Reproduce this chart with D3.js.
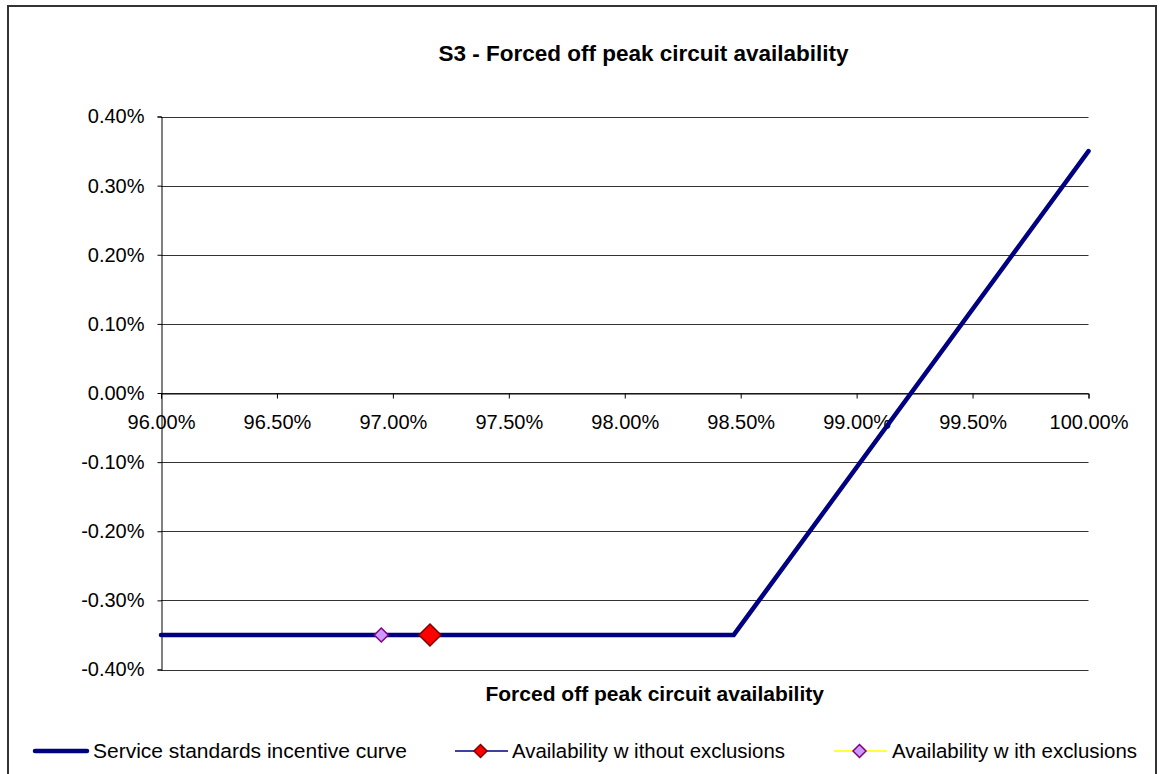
<!DOCTYPE html>
<html><head><meta charset="utf-8">
<script src="https://cdn.jsdelivr.net/npm/d3@7"></script>
<style>
html,body{margin:0;padding:0;background:#fff;}
svg{display:block;font-family:"Liberation Sans",Arial,sans-serif;}
</style></head>
<body>
<svg id="c" width="1162" height="774"></svg>
<script>
const curveX = [96.00, 98.47, 100.00];
const curveY = [-0.35, -0.35, 0.35];
const withoutX = [97.16];
const withoutY = [-0.35];
const withX = [96.95];
const withY = [-0.35];
const xTicks = [96.0, 96.5, 97.0, 97.5, 98.0, 98.5, 99.0, 99.5, 100.0];
const yTicks = [0.4, 0.3, 0.2, 0.1, 0.0, -0.1, -0.2, -0.3, -0.4];
const legendLabels = ["Service standards incentive curve", "Availability w ithout exclusions", "Availability w ith exclusions"];
const titleText = "S3 - Forced off peak circuit availability";
const xTitle = "Forced off peak circuit availability";

const svg = d3.select("#c");
const L = 161, R = 1088.5, T = 116.5, B = 669.5;
const x = d3.scaleLinear().domain([96, 100]).range([L, R]);
const y = d3.scaleLinear().domain([-0.4, 0.4]).range([B, T]);
const pct = d => (d3.format(".2f")(d) + "%").replace("\u2212", "-");

// outer border
svg.append("rect").attr("x", 8).attr("y", 6).attr("width", 1148).attr("height", 780)
  .attr("fill", "none").attr("stroke", "#333").attr("stroke-width", 2);

// title
svg.append("text").attr("x", 643.5).attr("y", 61).attr("text-anchor", "middle")
  .attr("font-size", 22.5).attr("font-weight", "bold").text(titleText);

// gridlines
svg.append("g").selectAll("line").data(yTicks).join("line")
  .attr("x1", L).attr("x2", R).attr("y1", d => Math.round(y(d)) + 0.5).attr("y2", d => Math.round(y(d)) + 0.5)
  .attr("stroke", "#333").attr("stroke-width", 1);

// y axis
const ya = d3.axisLeft(y).tickValues(yTicks).tickSize(4).tickFormat(pct);
const yg = svg.append("g").attr("transform", `translate(${L + 0.5},0)`).call(ya);
yg.select(".domain").attr("stroke", "#000");
yg.selectAll(".tick line").attr("stroke", "#000");
yg.selectAll(".tick text").attr("font-size", 20).attr("fill", "#000").attr("x", -17)
  .attr("font-family", "Liberation Sans, Arial, sans-serif");

// x axis at zero
const xa = d3.axisBottom(x).tickValues(xTicks).tickSize(5).tickFormat(pct);
const xg = svg.append("g").attr("transform", `translate(0,${Math.round(y(0)) + 0.5})`).call(xa);
xg.select(".domain").attr("stroke", "#000");
xg.selectAll(".tick line").attr("stroke", "#000");
xg.selectAll(".tick text").attr("font-size", 20).attr("fill", "#000").attr("y", 21)
  .attr("font-family", "Liberation Sans, Arial, sans-serif");

// x title
svg.append("text").attr("x", 654.7).attr("y", 701).attr("text-anchor", "middle")
  .attr("font-size", 21).attr("font-weight", "bold").text(xTitle);

// curve
const curveData = curveX.map((v, i) => [v, curveY[i]]);
svg.append("path").datum(curveData)
  .attr("d", d3.line().x(d => x(d[0])).y(d => y(d[1])))
  .attr("fill", "none").attr("stroke", "#000080").attr("stroke-width", 4.5)
  .attr("stroke-linecap", "round").attr("stroke-linejoin", "miter");

function diamond(g, cx, cy, r, fill, stroke) {
  g.append("path").attr("d", `M${cx},${cy - r}L${cx + r},${cy}L${cx},${cy + r}L${cx - r},${cy}Z`)
    .attr("fill", fill).attr("stroke", stroke).attr("stroke-width", 1.5);
}
const mg = svg.append("g");
withX.forEach((v, i) => diamond(mg, x(v), y(withY[i]), 7, "#CC99FF", "#800080"));
withoutX.forEach((v, i) => diamond(mg, x(v), y(withoutY[i]), 11, "#FF0000", "#800000"));

// legend
const ly = 751;
const lg = svg.append("g").attr("font-size", 20.5);
lg.append("line").attr("x1", 35).attr("x2", 87).attr("y1", ly).attr("y2", ly)
  .attr("stroke", "#000080").attr("stroke-width", 4.5).attr("stroke-linecap", "round");
lg.append("text").attr("x", 93).attr("y", ly + 7).attr("textLength", 314).attr("lengthAdjust", "spacingAndGlyphs").text(legendLabels[0]);
lg.append("line").attr("x1", 455).attr("x2", 508).attr("y1", ly).attr("y2", ly)
  .attr("stroke", "#000080").attr("stroke-width", 1.5);
diamond(lg, 480.5, ly, 6.5, "#FF0000", "#800000");
lg.append("text").attr("x", 512).attr("y", ly + 7).attr("textLength", 273).attr("lengthAdjust", "spacingAndGlyphs").text(legendLabels[1]);
lg.append("line").attr("x1", 834).attr("x2", 887).attr("y1", ly).attr("y2", ly)
  .attr("stroke", "#FFFF00").attr("stroke-width", 1.5);
diamond(lg, 859.5, ly, 6.5, "#CC99FF", "#800080");
lg.append("text").attr("x", 892).attr("y", ly + 7).attr("textLength", 245).attr("lengthAdjust", "spacingAndGlyphs").text(legendLabels[2]);
</script>
</body></html>
